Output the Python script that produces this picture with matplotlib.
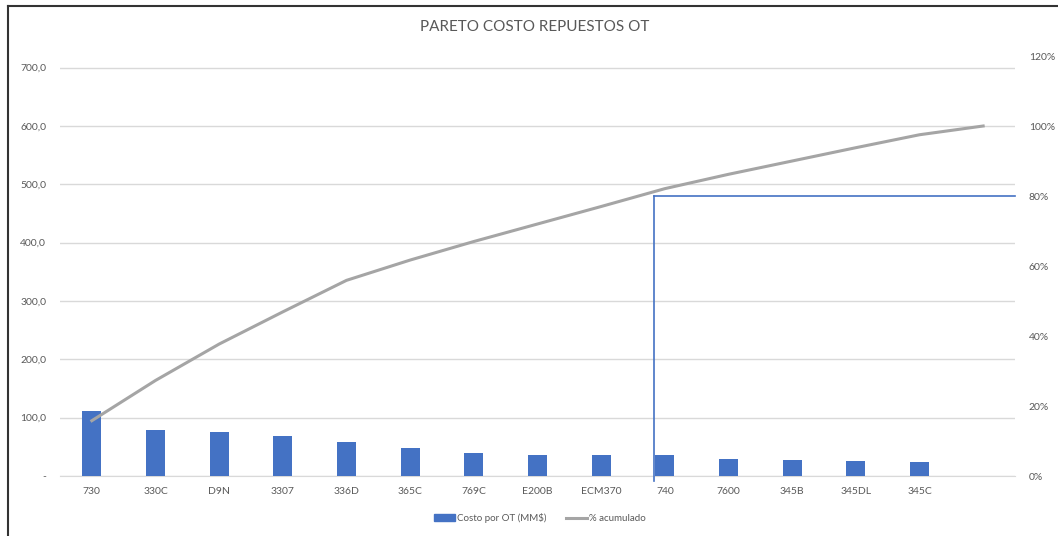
import matplotlib
matplotlib.use('Agg')
import numpy as np
from matplotlib import pyplot as plt
from matplotlib.lines import Line2D

plt.rcParams['font.family'] = ['Lato', 'DejaVu Sans']

categories = ['730', '330C', 'D9N', '3307', '336D', '365C', '769C', 'E200B',
              'ECM370', '740', '7600', '345B', '345DL', '345C', '']
costo = [111.5, 79, 76, 69, 59, 48.5, 39, 36, 36, 36, 30, 28, 26, 23.5]
acumulado = [15.8, 27.3, 37.7, 46.9, 55.9, 61.7, 67.0, 72.0, 77.0, 82.1,
             86.2, 90.0, 93.8, 97.5, 100.0]
left_ticks = [0, 100, 200, 300, 400, 500, 600, 700]
right_ticks = [0, 20, 40, 60, 80, 100, 120]
cut_x = 8.83
cut_pct = 80

bar_color = '#4472C4'
line_color = '#A5A5A5'
text_color = '#595959'
grid_color = '#D9D9D9'

fig = plt.figure(figsize=(10.58, 5.36), dpi=100)
ax = fig.add_axes([60 / 1058, 1 - 476 / 536, (1015 - 60) / 1058, (476 - 56) / 536])
ax2 = ax.twinx()

x = np.arange(len(categories))
ax.bar(x[:len(costo)], costo, width=0.3, color=bar_color, zorder=3)
ax.set_xlim(-0.5, len(categories) - 0.5)
ax.set_ylim(0, 720)
ax.set_yticks(left_ticks)
ax.set_yticklabels(['-' if v == 0 else f'{v:.1f}'.replace('.', ',') for v in left_ticks])
ax.yaxis.grid(True, color=grid_color, linewidth=1.0, zorder=0)
ax.set_axisbelow(True)
ax.set_xticks(x)
ax.set_xticklabels(categories)

ax2.plot(x, acumulado, color=line_color, linewidth=2.2, zorder=4)
ax2.set_ylim(0, 120)
ax2.set_yticks(right_ticks)
ax2.set_yticklabels([f'{v}%' for v in right_ticks])

# 80 % marker lines
ax2.plot([cut_x, cut_x], [-1.4, cut_pct], color=bar_color, linewidth=1.2, clip_on=False, zorder=5)
ax2.plot([cut_x, len(categories) - 0.5], [cut_pct, cut_pct], color=bar_color,
         linewidth=1.2, clip_on=False, zorder=5)

for a in (ax, ax2):
    for s in a.spines.values():
        s.set_visible(False)
    a.tick_params(length=0, labelsize=7.5, labelcolor=text_color)
ax.spines['bottom'].set_visible(True)
ax.spines['bottom'].set_color(grid_color)
ax.tick_params(axis='x', pad=8)
ax.tick_params(axis='y', pad=10)
ax2.tick_params(axis='y', pad=10)

fig.text(535 / 1058, 1 - 27 / 536, 'PARETO COSTO REPUESTOS OT', ha='center', va='center',
         fontsize=11, color=text_color)

handles = [plt.Rectangle((0, 0), 1, 1, color=bar_color),
           Line2D([0], [0], color=line_color, linewidth=2.2)]
fig.legend(handles, ['Costo por OT (MM$)', '% acumulado'], loc='center',
           bbox_to_anchor=(540 / 1058, 1 - 518 / 536), ncol=2, frameon=False,
           fontsize=7, labelcolor=text_color, handlelength=2.2, handleheight=0.6,
           handletextpad=0.2, columnspacing=2.0)

# chart frame
fig.add_artist(Line2D([8 / 1058, 8 / 1058], [0, 1 - 6 / 536], color='#333333',
                      linewidth=1.5, transform=fig.transFigure))
fig.add_artist(Line2D([8 / 1058, 1], [1 - 6 / 536, 1 - 6 / 536], color='#333333',
                      linewidth=1.5, transform=fig.transFigure))

fig.savefig('out.png', dpi=100)
